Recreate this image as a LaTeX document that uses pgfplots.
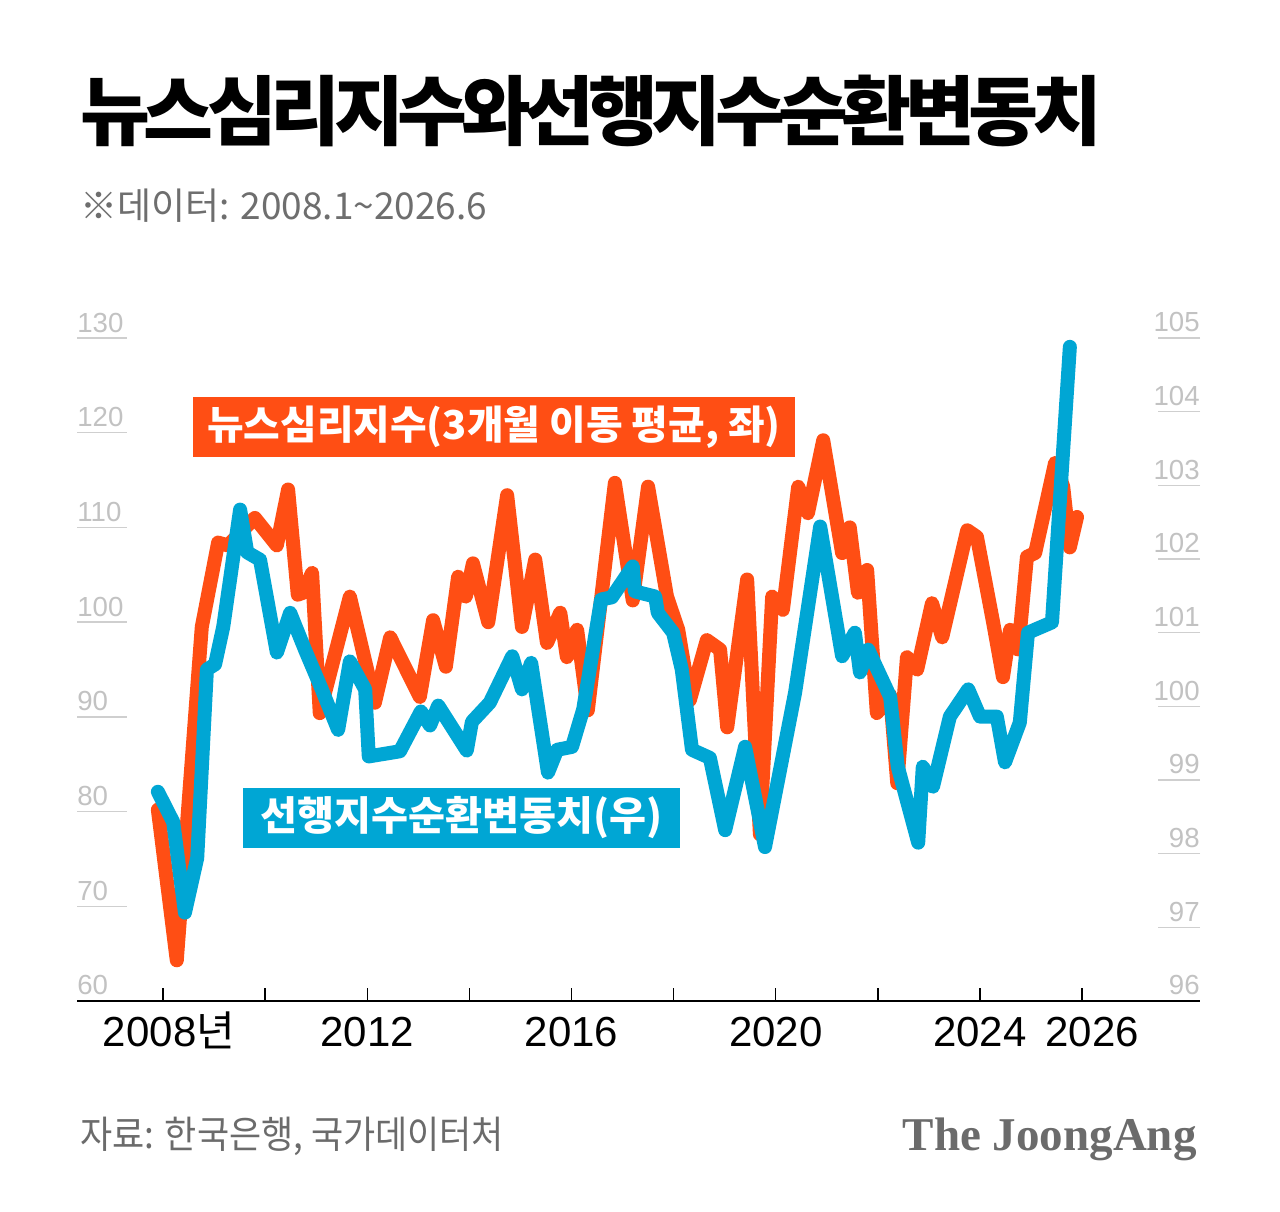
\documentclass[border=0pt]{standalone}
\usepackage{pgfplots}
\pgfplotsset{compat=1.18}
\usepackage{fontspec}
\setmainfont{Liberation Sans}
\newfontfamily\kr{Noto Sans CJK KR}
\newfontfamily\krtitle{Noto Sans CJK KR}[LetterSpace=-8.5]
\newfontfamily\logofont{Liberation Serif}
\definecolor{nsi}{HTML}{FF4E14}
\definecolor{cli}{HTML}{00A6D4}
\definecolor{lbl}{HTML}{C2C2C2}
\definecolor{uline}{HTML}{CFCFCF}
\definecolor{subc}{HTML}{6E6E6E}
\definecolor{srcc}{HTML}{6B6B6B}
\begin{document}
\begin{tikzpicture}
\path[use as bounding box, fill=white] (0pt,0pt) rectangle (640pt,605.5pt);
\node[anchor=base west, inner sep=0pt] at (40pt,535.5pt) {\krtitle\bfseries\fontsize{38}{38}\selectfont 뉴스심리지수와선행지수순환변동치};
\node[anchor=base west, inner sep=0pt, text=subc] at (40pt,495.5pt) {\kr\fontsize{18.5}{18.5}\selectfont ※데이터: 2008.1\textasciitilde2026.6};
\begin{axis}[
  at={(38.5pt,105pt)}, anchor=south west,
  scale only axis, width=561.5pt, height=331.5pt,
  xmin=2006.316, xmax=2028.309, ymin=60, ymax=130,
  axis x line*=bottom, axis y line*=left,
  y axis line style={draw=none},
  x axis line style={black, line width=0.7pt, -},
  xtick={2008,2010,...,2026},
  xticklabels={\hspace*{6pt}2008{\kr 년},,2012,,2016,,2020,,2024,\hspace*{10pt}2026},
  tick align=inside, major tick length=6.5pt,
  xtick style={black, line width=0.7pt},
  ytick={60,70,...,130}, ytick style={draw=none},
  yticklabel style={anchor=base west, inner sep=0pt, yshift=3pt, text=lbl, font=\fontsize{13.8}{13.8}\selectfont},
  xticklabel style={anchor=base, inner sep=0pt, yshift=-23pt, font=\fontsize{21}{21}\selectfont, text=black},
  /pgf/number format/assume math mode=true,
  clip=false,
]
\addplot[nsi, line width=7pt, line join=round, line cap=round] coordinates {
(2007.90,80.2) (2008.27,64.3) (2008.76,99.5) (2009.08,108.4) (2009.27,108.1)
(2009.80,111.0) (2010.23,108.1) (2010.45,114.0) (2010.64,102.9) (2010.74,103.1)
(2010.92,105.2) (2011.07,90.4) (2011.66,102.7) (2012.15,91.5) (2012.45,98.4)
(2013.03,92.1) (2013.29,100.2) (2013.54,95.3) (2013.78,104.8) (2013.93,102.7)
(2014.07,106.2) (2014.37,100.0) (2014.74,113.4) (2015.03,99.5) (2015.29,106.6)
(2015.52,97.8) (2015.78,101.0) (2015.91,96.3) (2016.11,99.2) (2016.32,90.7)
(2016.85,114.7) (2017.20,102.3) (2017.50,114.3) (2017.87,102.7) (2018.09,99.2)
(2018.32,91.8) (2018.65,98.1) (2018.91,97.1) (2019.05,88.9) (2019.44,104.5)
(2019.69,77.6) (2019.93,102.7) (2020.14,101.3) (2020.44,114.3) (2020.63,111.5)
(2020.93,119.2) (2021.30,107.3) (2021.45,110.0) (2021.61,103.1) (2021.79,105.5)
(2021.98,90.4) (2022.24,92.3) (2022.38,83.0) (2022.57,96.3) (2022.77,95.0)
(2023.06,102.0) (2023.26,98.4) (2023.75,109.7) (2023.94,109.0) (2024.26,99.9)
(2024.45,94.2) (2024.59,99.2) (2024.75,97.1) (2024.92,106.9) (2025.08,107.3)
(2025.47,116.8) (2025.63,114.3) (2025.76,107.9) (2025.90,111.1)
};
\end{axis}
\begin{axis}[
  at={(38.5pt,105pt)}, anchor=south west,
  scale only axis, width=561.5pt, height=331.5pt,
  xmin=2006.316, xmax=2028.309, ymin=96, ymax=105,
  axis x line=none, axis y line*=right,
  y axis line style={draw=none},
  ytick={96,97,...,105}, ytick style={draw=none},
  yticklabel style={anchor=base east, inner sep=0pt, yshift=3pt, text=lbl, font=\fontsize{13.8}{13.8}\selectfont},
  /pgf/number format/assume math mode=true,
  clip=false,
]
\addplot[cli, line width=7pt, line join=round, line cap=round] coordinates {
(2007.90,98.84) (2008.20,98.43) (2008.43,97.20) (2008.67,97.94) (2008.86,100.50)
(2009.02,100.57) (2009.18,101.08) (2009.51,102.67) (2009.65,102.09) (2009.90,101.99)
(2010.23,100.73) (2010.49,101.27) (2010.78,100.77) (2011.11,100.23) (2011.43,99.68)
(2011.66,100.61) (2011.96,100.23) (2012.03,99.32) (2012.64,99.39) (2013.05,99.93)
(2013.23,99.74) (2013.39,100.01) (2013.95,99.40) (2014.05,99.79) (2014.40,100.05)
(2014.84,100.68) (2015.03,100.23) (2015.21,100.59) (2015.54,99.10) (2015.72,99.41)
(2016.01,99.45) (2016.23,99.96) (2016.58,101.45) (2016.79,101.48) (2017.20,101.90)
(2017.24,101.56) (2017.64,101.49) (2017.69,101.27) (2017.99,101.00) (2018.16,100.50)
(2018.36,99.41) (2018.71,99.30) (2019.01,98.32) (2019.40,99.45) (2019.79,98.09)
(2020.38,100.19) (2020.87,102.44) (2021.30,100.68) (2021.55,101.00) (2021.65,100.46)
(2021.81,100.77) (2022.24,100.13) (2022.39,99.18) (2022.79,98.15) (2022.88,99.18)
(2023.08,98.91) (2023.41,99.86) (2023.77,100.23) (2024.00,99.86) (2024.33,99.86)
(2024.49,99.24) (2024.78,99.78) (2024.94,101.00) (2025.41,101.14) (2025.76,104.88)
};
\end{axis}
% tick underlines (left: 70..130, right: 97..105)
\foreach \v in {70,80,...,130}{
  \draw[uline, line width=0.75pt] (38.5pt,{105pt+(\v-60)/70*331.5pt}) -- ++(25pt,0pt);
}
\foreach \v in {97,98,...,105}{
  \draw[uline, line width=0.75pt] (600pt,{105pt+(\v-96)/9*331.5pt}) -- ++(-21pt,0pt);
}
\fill[nsi] (96.5pt,377pt) rectangle (397.5pt,407pt);
\node[text=white, inner sep=0pt] at (247pt,392pt) {\kr\bfseries\fontsize{19.9}{19.9}\selectfont 뉴스심리지수(3개월 이동 평균, 좌)};
\fill[cli] (121.5pt,181.5pt) rectangle (340pt,211.5pt);
\node[text=white, inner sep=0pt] at (230.75pt,196.5pt) {\kr\bfseries\fontsize{20.1}{20.1}\selectfont 선행지수순환변동치(우)};
\node[anchor=base west, inner sep=0pt, text=srcc] at (40pt,31.5pt) {\scalebox{0.92}[1]{\kr\fontsize{19}{19}\selectfont 자료: 한국은행, 국가데이터처}};
\node[anchor=base east, inner sep=0pt, text=srcc] at (598.5pt,30.5pt) {\logofont\bfseries\fontsize{23.5}{23.5}\selectfont The JoongAng};
\end{tikzpicture}
\end{document}
